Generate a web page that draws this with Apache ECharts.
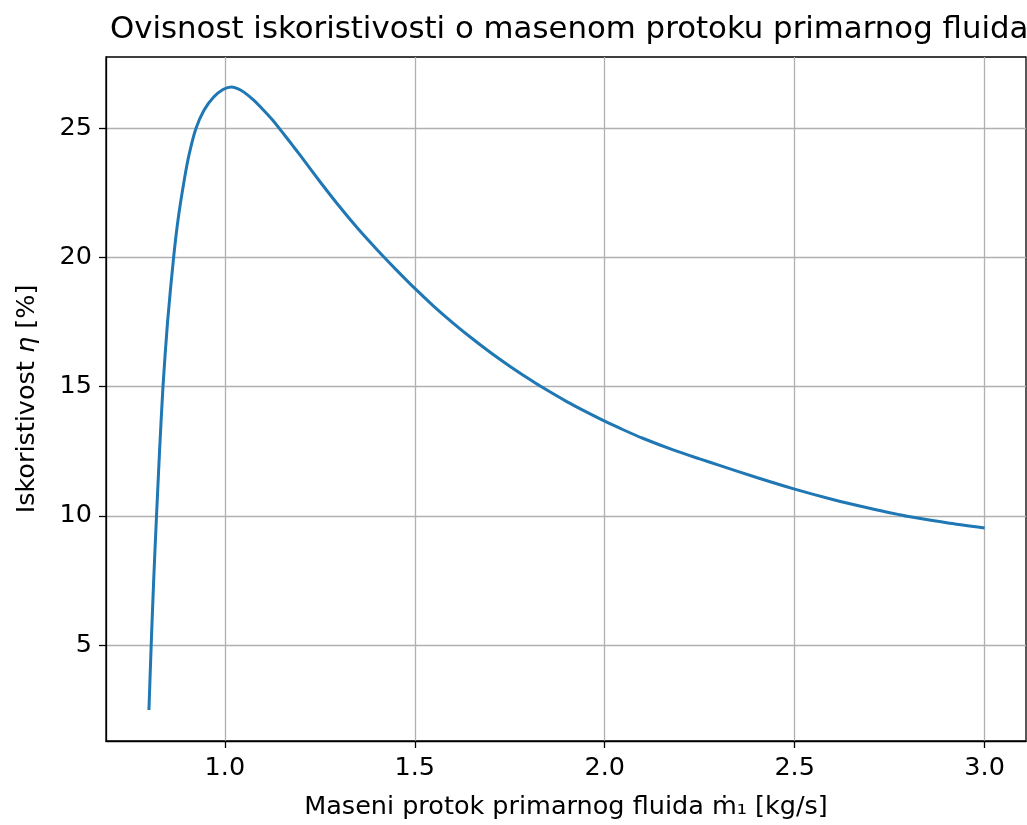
<!DOCTYPE html>
<html>
<head>
<meta charset="utf-8">
<script src="https://cdn.jsdelivr.net/npm/echarts@6/dist/echarts.min.js"></script>
<style>
html,body{margin:0;padding:0;background:#fff;}
#chart{width:1027px;height:825px;}
</style>
</head>
<body>
<div id="chart"></div>
<script>
// Mass flow of primary fluid [kg/s]
const massFlow = [0.800, 0.806, 0.8125, 0.820, 0.828, 0.837, 0.849, 0.865, 0.877, 0.893, 0.906, 0.924, 0.945, 0.970, 0.995, 1.018, 1.035, 1.050, 1.075, 1.100, 1.125, 1.150, 1.175, 1.200, 1.250, 1.300, 1.350, 1.400, 1.450, 1.500, 1.550, 1.600, 1.645, 1.700, 1.750, 1.800, 1.830, 1.900, 1.950, 2.000, 2.050, 2.100, 2.180, 2.250, 2.300, 2.400, 2.500, 2.600, 2.700, 2.776, 2.800, 2.900, 3.000];
// Efficiency eta [%]
const efficiency = [2.48, 5.0, 7.5, 10.0, 12.5, 15.0, 17.5, 20.0, 21.5, 23.0, 24.0, 25.0, 25.7, 26.2, 26.5, 26.6, 26.53, 26.4, 26.1, 25.73, 25.33, 24.87, 24.4, 23.92, 22.94, 22.0, 21.12, 20.31, 19.54, 18.8, 18.11, 17.47, 16.93, 16.31, 15.79, 15.3, 15.02, 14.42, 14.03, 13.66, 13.32, 13.0, 12.55, 12.2, 11.96, 11.48, 11.03, 10.63, 10.28, 10.04, 9.97, 9.73, 9.53];
const xTicks = [1.0, 1.5, 2.0, 2.5, 3.0];
const yTicks = [5, 10, 15, 20, 25];

const titleText = 'Ovisnost iskoristivosti o masenom protoku primarnog fluida';
const xName = 'Maseni protok primarnog fluida ṁ₁ [kg/s]';

const font = 'DejaVu Sans';
const chart = echarts.init(document.getElementById('chart'), null, {renderer: 'canvas'});
const seriesData = massFlow.map((x, i) => [x, efficiency[i]]);

chart.setOption({
  animation: false,
  backgroundColor: '#ffffff',
  title: {
    text: titleText,
    left: 105, top: 9,
    textStyle: {fontFamily: font, fontSize: 30.8, fontWeight: 'normal', color: '#000'}
  },
  grid: {
    left: 106, right: 1, top: 57, bottom: 83,
    show: true, borderColor: '#000', borderWidth: 1.3, backgroundColor: 'transparent'
  },
  xAxis: {
    type: 'value',
    min: 0.687, max: 3.109,
    name: xName,
    nameLocation: 'middle',
    nameGap: 53,
    nameTextStyle: {fontFamily: font, fontSize: 25.5, color: '#000'},
    axisLine: {show: true, onZero: false, lineStyle: {color: '#000', width: 1.3}},
    axisTick: {show: true, customValues: xTicks, length: 7, inside: false, lineStyle: {color: '#000', width: 1.3}},
    axisLabel: {customValues: xTicks, margin: 14, fontFamily: font, fontSize: 25.5, color: '#000',
      formatter: v => v.toFixed(1)},
    splitLine: {show: true, lineStyle: {color: '#b0b0b0', width: 1.3}}
  },
  yAxis: {
    type: 'value',
    min: 1.28, max: 27.76,
    name: '{a|Iskoristivost }{i|η}{a| [%]}',
    nameLocation: 'middle',
    nameRotate: 90,
    nameGap: 66,
    nameTextStyle: {
      rich: {
        a: {fontFamily: font, fontSize: 25.5, color: '#000'},
        i: {fontFamily: font, fontSize: 25.5, fontStyle: 'italic', color: '#000'}
      }
    },
    axisLine: {show: true, onZero: false, lineStyle: {color: '#000', width: 1.3}},
    axisTick: {show: true, customValues: yTicks, length: 7, inside: false, lineStyle: {color: '#000', width: 1.3}},
    axisLabel: {customValues: yTicks, margin: 14, fontFamily: font, fontSize: 25.5, color: '#000'},
    splitLine: {show: true, lineStyle: {color: '#b0b0b0', width: 1.3}}
  },
  series: [{
    type: 'line',
    data: seriesData,
    showSymbol: false,
    smooth: 0.25,
    lineStyle: {color: '#1f77b4', width: 3},
    clip: true
  }]
});
</script>
</body>
</html>
